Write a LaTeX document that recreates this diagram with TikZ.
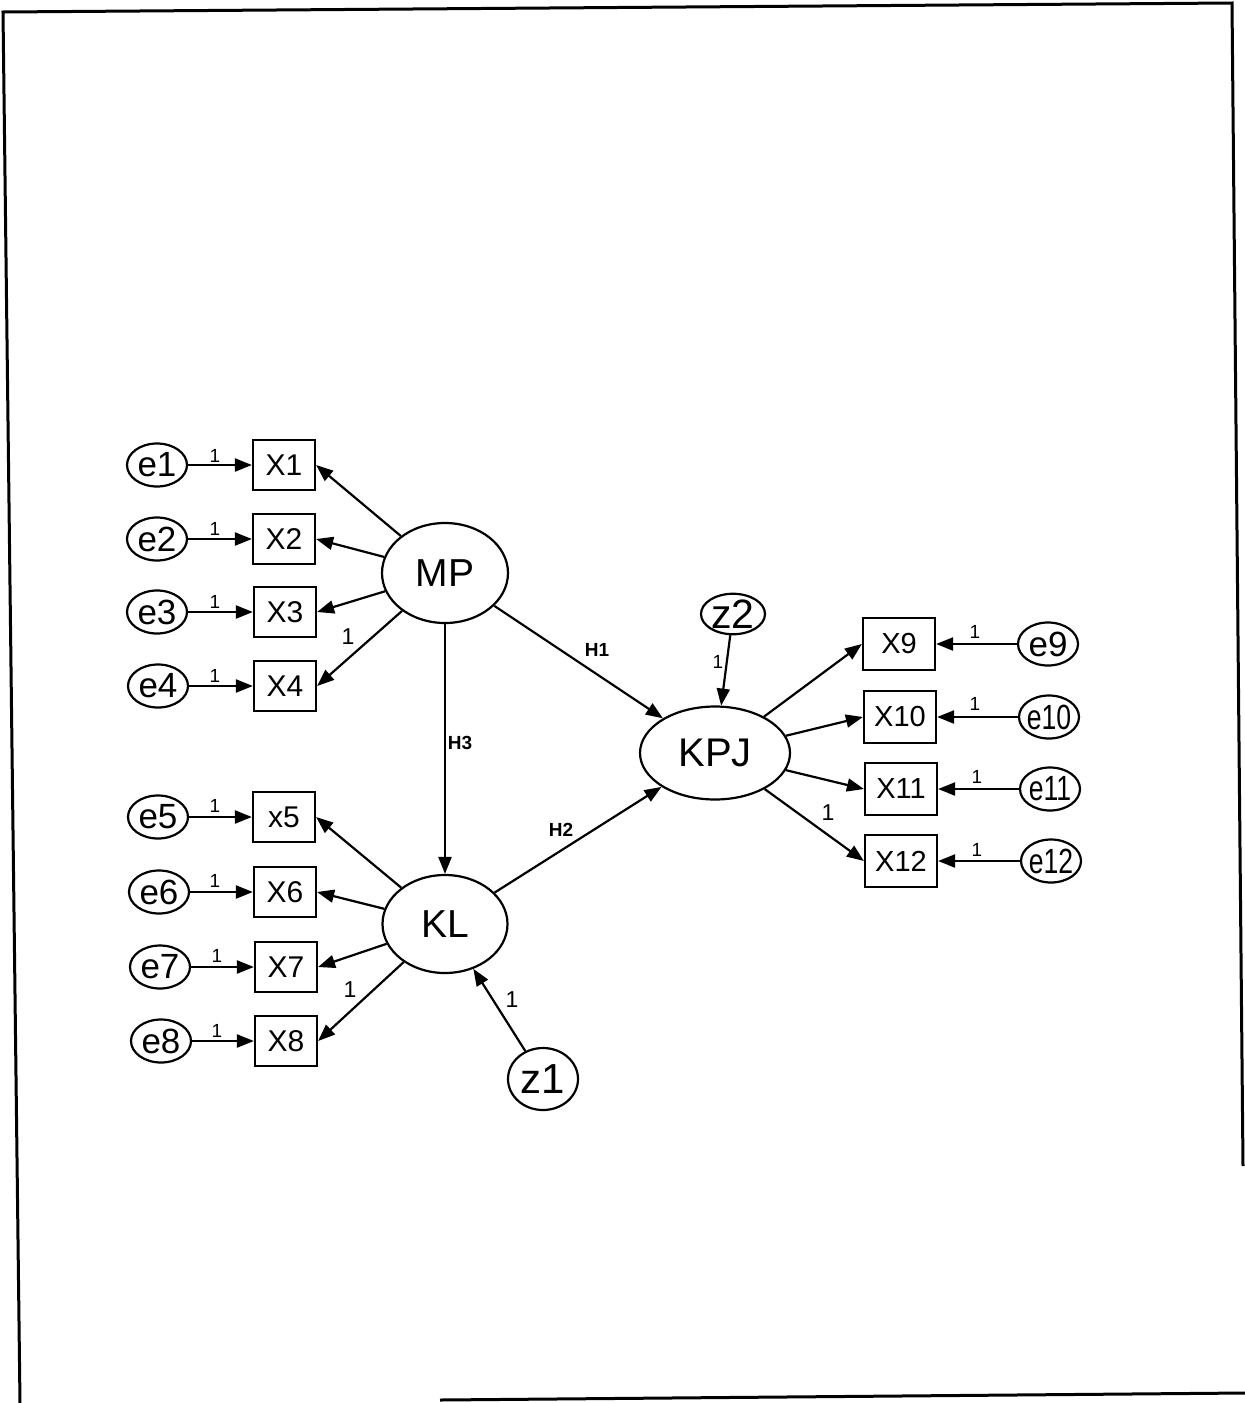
\documentclass[tikz,border=0pt]{standalone}
\usepackage{fontspec}
\setmainfont{Liberation Sans}
\usetikzlibrary{shapes.geometric,arrows.meta}
\newcommand{\zw}[1]{\makebox[0pt][c]{#1}}
\begin{document}
\begin{tikzpicture}[x=1pt,y=-1pt,line width=2.2pt,
  lat/.style={ellipse,draw,inner sep=0pt,font=\fontsize{39}{39}\selectfont},
  err/.style={ellipse,draw,inner sep=0pt,minimum width=60pt,minimum height=43pt,font=\fontsize{35}{35}\selectfont},
  obsL/.style={rectangle,draw,inner sep=0pt,minimum width=62pt,minimum height=50pt,font=\fontsize{30}{30}\selectfont},
  obsR/.style={rectangle,draw,inner sep=0pt,minimum width=72pt,minimum height=52pt,font=\fontsize{29}{29}\selectfont},
  arr/.style={-{Triangle[length=17pt,width=13pt]}},
  one/.style={inner sep=0pt,font=\fontsize{19}{19}\selectfont},
  onebig/.style={inner sep=0pt,font=\fontsize{23}{23}\selectfont},
  hyp/.style={inner sep=0pt,font=\bfseries\fontsize{19}{19}\selectfont},
  frame/.style={line width=3pt}]
\useasboundingbox (0,0) rectangle (1245,1403);
% frame
\coordinate (f1) at (3,12);
\coordinate (f2) at (1232,3);
\coordinate (f3) at (1243,1166);
\coordinate (f4) at (20,1403);
\coordinate (f5) at (440,1400);
\coordinate (f6) at (1245,1393);
\draw[frame] (f4) -- (f1) -- (f2) -- (f3);
\draw[frame] (f5) -- (f6);
% latent
\node[lat,minimum width=126pt,minimum height=100pt] (MP) at (445,573) {MP};
\node[lat,minimum width=125pt,minimum height=98pt] (KL) at (445,924) {KL};
\node[lat,minimum width=150pt,minimum height=93pt,font=\fontsize{40}{40}\selectfont] (KPJ) at (715,753) {KPJ};
\node[lat,minimum width=70pt,minimum height=62pt,font=\fontsize{42}{42}\selectfont] (z1) at (543,1079) {\zw{z1}};
\node[lat,minimum width=64pt,minimum height=40pt,font=\fontsize{41}{41}\selectfont] (z2) at (733,614) {\zw{z2}};
% left observed
\node[obsL] (X1) at (284,465) {X1};
\node[obsL] (X2) at (284,539) {X2};
\node[obsL] (X3) at (285,612) {X3};
\node[obsL] (X4) at (285,686) {X4};
\node[obsL] (X5) at (284,817) {x5};
\node[obsL] (X6) at (285,892) {X6};
\node[obsL] (X7) at (286,967) {X7};
\node[obsL] (X8) at (286,1041) {X8};
\node[err] (e1) at (157,465) {\zw{e1}};
\node[err] (e2) at (157,539) {\zw{e2}};
\node[err] (e3) at (157,612) {\zw{e3}};
\node[err] (e4) at (158,686) {\zw{e4}};
\node[err] (e5) at (158,817) {\zw{e5}};
\node[err] (e6) at (159,892) {\zw{e6}};
\node[err] (e7) at (160,967) {\zw{e7}};
\node[err] (e8) at (161,1041) {\zw{e8}};
% right observed
\node[obsR] (X9) at (899,644) {X9};
\node[obsR] (X10) at (900,717) {X10};
\node[obsR] (X11) at (901,789) {X11};
\node[obsR] (X12) at (901,861) {X12};
\node[err] (e9) at (1048,644) {\zw{e9}};
\node[err] (e10) at (1049,717) {\zw{\scalebox{0.76}[1]{e10}}};
\node[err] (e11) at (1050,789) {\zw{\scalebox{0.76}[1]{e11}}};
\node[err] (e12) at (1051,861) {\zw{\scalebox{0.76}[1]{e12}}};
% error arrows
\foreach \i in {1,...,8} {\draw[arr] (e\i) -- (X\i);}
\foreach \i in {9,...,12} {\draw[arr] (e\i) -- (X\i);}
% loadings
\foreach \i in {1,...,4} {\draw[arr] (MP) -- (X\i.east);}
\foreach \i in {5,...,8} {\draw[arr] (KL) -- (X\i.east);}
\foreach \i in {9,...,12} {\draw[arr] (KPJ) -- (X\i.west);}
% structural
\draw[arr] (MP) -- (KPJ);
\draw[arr] (KL) -- (KPJ);
\draw[arr] (MP) -- (KL);
\draw[arr] (z1) -- (KL);
\draw[arr] (z2) -- (KPJ);
% labels
\node[one] (l1) at (215,456) {1};
\node[one] (l2) at (215,529) {1};
\node[one] (l3) at (215,602) {1};
\node[one] (l4) at (215,676) {1};
\node[one] (l5) at (215,806) {1};
\node[one] (l6) at (215,881) {1};
\node[one] (l7) at (217,956) {1};
\node[one] (l8) at (217,1031) {1};
\node[one] (l9) at (975,632) {1};
\node[one] (l10) at (975,704) {1};
\node[one] (l11) at (977,777) {1};
\node[one] (l12) at (977,850) {1};
\node[onebig] (lX4) at (348,637) {1};
\node[onebig] (lX8) at (350,990) {1};
\node[onebig] (lX12) at (828,813) {1};
\node[onebig] (lz1) at (512,1000) {1};
\node[one] (lz2) at (718,662) {1};
\node[hyp] (H1) at (597,650) {H1};
\node[hyp] (H2) at (561,830) {H2};
\node[hyp] (H3) at (460,743) {H3};
\end{tikzpicture}
\end{document}
